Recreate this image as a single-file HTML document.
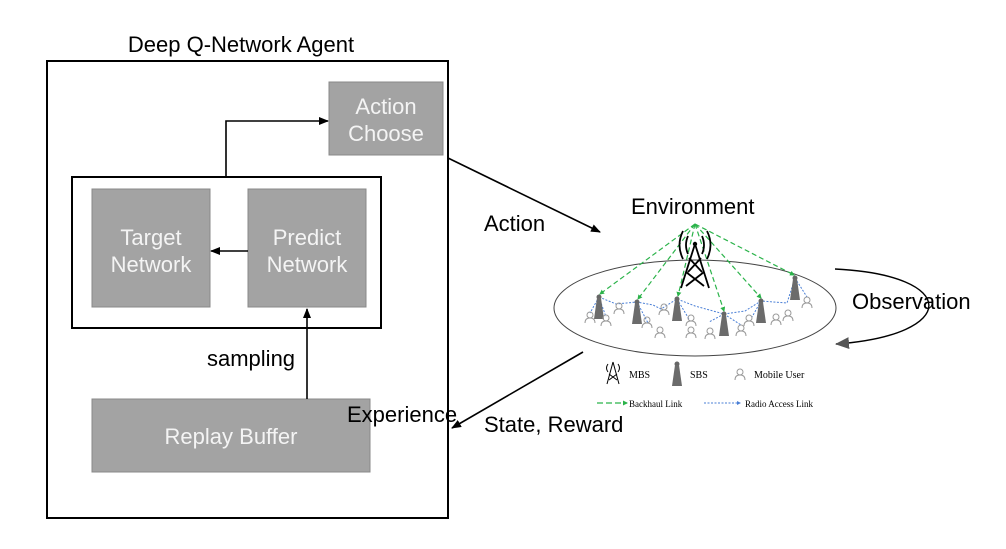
<!DOCTYPE html>
<html><head><meta charset="utf-8"><style>
html,body{margin:0;padding:0;background:#fff;}
svg{display:block;}
</style></head><body>
<svg width="1006" height="549" viewBox="0 0 1006 549" xmlns="http://www.w3.org/2000/svg" font-family="Liberation Sans, sans-serif">
<defs>
<marker id="ah" markerWidth="10" markerHeight="8" refX="9" refY="4" orient="auto" markerUnits="userSpaceOnUse"><path d="M0,0 L10,4 L0,8 z" fill="#000"/></marker>
<marker id="ag" markerWidth="14" markerHeight="12" refX="13" refY="6" orient="auto" markerUnits="userSpaceOnUse"><path d="M0,0 L14,6 L0,12 z" fill="#555"/></marker>
<marker id="gg" markerWidth="5" markerHeight="5" refX="4" refY="2.5" orient="auto" markerUnits="userSpaceOnUse"><path d="M0,0 L5,2.5 L0,5 z" fill="#2bb34a"/></marker>
<marker id="bb" markerWidth="4" markerHeight="4" refX="3" refY="2" orient="auto" markerUnits="userSpaceOnUse"><path d="M0,0 L4,2 L0,4 z" fill="#4a7fd6"/></marker>
<g id="usr" fill="none" stroke="#999" stroke-width="1"><circle cx="0" cy="-6" r="3"/><path d="M-5,2 Q-5,-3 0,-3 Q5,-3 5,2"/></g>
<g id="sbs"><circle cx="0" cy="0" r="2.5" fill="#666"/><path d="M-2,1 L2,1 L5,22 L-5,22 z" fill="#6b6b6b"/></g>
</defs>
<text x="241" y="52" font-size="22" text-anchor="middle">Deep Q-Network Agent</text>
<rect x="47" y="61" width="401" height="457" fill="none" stroke="#000" stroke-width="2"/>
<rect x="72" y="177" width="309" height="151" fill="none" stroke="#000" stroke-width="2"/>
<g fill="#a3a3a3" stroke="#888" stroke-width="1">
<rect x="329" y="82" width="114" height="73"/>
<rect x="92" y="189" width="118" height="118"/>
<rect x="248" y="189" width="118" height="118"/>
<rect x="92" y="399" width="278" height="73"/>
</g>
<g fill="#f4f4f4" font-size="22" text-anchor="middle">
<text x="386" y="114">Action</text><text x="386" y="141">Choose</text>
<text x="151" y="245">Target</text><text x="151" y="272">Network</text>
<text x="307" y="245">Predict</text><text x="307" y="272">Network</text>
<text x="231" y="444">Replay Buffer</text>
</g>
<g stroke="#000" stroke-width="1.6" fill="none">
<path d="M226,177 V121 H328" marker-end="url(#ah)"/>
<path d="M248,251 H211" marker-end="url(#ah)"/>
<path d="M307,399 V309" marker-end="url(#ah)"/>
<path d="M448,158 L600,232" marker-end="url(#ah)"/>
<path d="M583,352 L452,428" marker-end="url(#ah)"/>
</g>
<path d="M835,269 C960,275 960,335 836,344" fill="none" stroke="#000" stroke-width="1.4" marker-end="url(#ag)"/>
<g font-size="22">
<text x="207" y="366">sampling</text>
<text x="347" y="422">Experience</text>
<text x="484" y="231">Action</text>
<text x="631" y="214">Environment</text>
<text x="852" y="309">Observation</text>
<text x="484" y="432">State, Reward</text>
</g>
<ellipse cx="695" cy="308" rx="141" ry="48" fill="none" stroke="#444" stroke-width="1"/>
<g stroke="#2bb34a" stroke-width="1.2" stroke-dasharray="5,3" fill="none">
<path d="M695,224 L600,294" marker-end="url(#gg)"/>
<path d="M695,224 L638,299" marker-end="url(#gg)"/>
<path d="M695,224 L678,296" marker-end="url(#gg)"/>
<path d="M695,224 L724,311" marker-end="url(#gg)"/>
<path d="M695,224 L761,298" marker-end="url(#gg)"/>
<path d="M695,224 L794,275" marker-end="url(#gg)"/>
</g>
<g stroke="#000" stroke-width="1.8" fill="none">
<path d="M695,244 L681,288 M695,244 L709,288 M686,272 L704,286 M704,272 L686,286 M689,258 L702,272 M701,258 L688,272"/>
<path d="M688,236 Q684,245 688,254 M702,236 Q706,245 702,254 M683,231 Q676,245 683,259 M707,231 Q714,245 707,259"/>
</g>
<circle cx="695" cy="244" r="2.2" fill="#000"/>
<g stroke="#4a7fd6" stroke-width="1" stroke-dasharray="2,1.5" fill="none">
<path d="M599,297 L616,304 L637,302 L653,305 L661,309 L677,299 L695,306 L724,314 L745,311 L761,301 L787,303 L795,278"/>
<path d="M599,297 L590,313 M599,297 L606,317 M637,302 L648,323 M677,299 L689,319 M724,314 L709,322 M724,314 L741,325 M761,301 L752,317 M795,278 L807,297"/>
</g>
<use href="#sbs" x="599" y="297"/><use href="#sbs" x="637" y="302"/><use href="#sbs" x="677" y="299"/>
<use href="#sbs" x="724" y="314"/><use href="#sbs" x="761" y="301"/><use href="#sbs" x="795" y="278"/>
<use href="#usr" x="590" y="321"/><use href="#usr" x="606" y="324"/><use href="#usr" x="619" y="312"/>
<use href="#usr" x="647" y="326"/><use href="#usr" x="660" y="336"/><use href="#usr" x="664" y="313"/>
<use href="#usr" x="691" y="324"/><use href="#usr" x="691" y="336"/><use href="#usr" x="710" y="337"/>
<use href="#usr" x="741" y="334"/><use href="#usr" x="749" y="324"/><use href="#usr" x="776" y="323"/>
<use href="#usr" x="788" y="319"/><use href="#usr" x="807" y="306"/>
<g stroke="#000" stroke-width="1" fill="none"><path d="M613,362 L607,384 M613,362 L619,384 M609,374 L617,380 M617,374 L609,380 M608,364 Q605,368 608,372 M618,364 Q621,368 618,372"/></g>
<text x="629" y="378" font-family="Liberation Serif, serif" font-size="10">MBS</text>
<use href="#sbs" x="677" y="364"/>
<text x="690" y="378" font-family="Liberation Serif, serif" font-size="10">SBS</text>
<use href="#usr" x="740" y="378"/>
<text x="754" y="378" font-family="Liberation Serif, serif" font-size="10">Mobile User</text>
<path d="M597,403 H627" stroke="#2bb34a" stroke-width="1.2" stroke-dasharray="6,3" marker-end="url(#gg)"/>
<text x="629" y="407" font-family="Liberation Serif, serif" font-size="9">Backhaul Link</text>
<path d="M704,403 H740" stroke="#4a7fd6" stroke-width="1" stroke-dasharray="2,1.5" marker-end="url(#bb)"/>
<text x="745" y="407" font-family="Liberation Serif, serif" font-size="9">Radio Access Link</text>
</svg>
</body></html>
